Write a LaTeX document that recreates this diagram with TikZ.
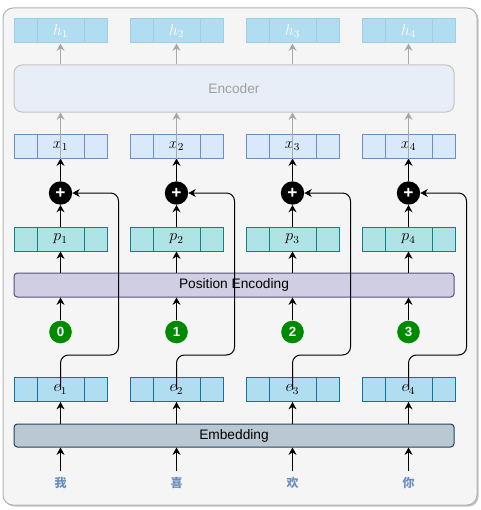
\documentclass[tikz,border=0pt]{standalone}
\usepackage{fontspec}
\setmainfont{Liberation Sans}
\newfontfamily\cjk{Noto Sans CJK SC}
\usetikzlibrary{arrows.meta}
\definecolor{bgfill}{HTML}{F5F5F5}
\definecolor{bgdraw}{HTML}{B3B3B3}
\definecolor{hfill}{HTML}{B1DDF0}
\definecolor{hdraw}{HTML}{9CCFE6}
\definecolor{encfill}{HTML}{E8EEF7}
\definecolor{encdraw}{HTML}{C4C4C4}
\definecolor{enctext}{HTML}{A0A0A0}
\definecolor{xfill}{HTML}{DAE8FC}
\definecolor{xdraw}{HTML}{6C8EBF}
\definecolor{pfill}{HTML}{B0E3E6}
\definecolor{pdraw}{HTML}{0E8088}
\definecolor{pefill}{HTML}{D0CEE2}
\definecolor{pedraw}{HTML}{56517E}
\definecolor{efill}{HTML}{B1DDF0}
\definecolor{edraw}{HTML}{10739E}
\definecolor{embfill}{HTML}{BAC8D3}
\definecolor{embdraw}{HTML}{23445D}
\definecolor{gfill}{HTML}{008A00}
\definecolor{chcol}{HTML}{6C8EBF}
\definecolor{garrow}{HTML}{A8A8A8}
\tikzset{
  vec/.style 2 args={draw=#2, fill=#1, line width=0.75pt, minimum width=69.75pt,
    minimum height=18pt, inner sep=0pt, font=\fontsize{11.5}{12}\selectfont,
    path picture={
      \draw[#2,line width=0.75pt] ([xshift=17.25pt]path picture bounding box.north west) -- ([xshift=17.25pt]path picture bounding box.south west);
      \draw[#2,line width=0.75pt] ([xshift=-17.25pt]path picture bounding box.north east) -- ([xshift=-17.25pt]path picture bounding box.south east);}},
  wide/.style 2 args={draw=#2, fill=#1, line width=0.75pt, minimum width=330pt,
    inner sep=0pt, font=\fontsize{10.3}{12}\selectfont},
  arr/.style={draw=black, line width=0.75pt, -{Stealth[length=5.5pt,width=6pt,inset=1.8pt]}},
  garr/.style={draw=garrow, line width=0.75pt, -{Stealth[length=5.5pt,width=6pt,inset=1.8pt]}},
  plusnode/.style={circle, fill=black, minimum size=17.5pt, inner sep=0pt,
    text=white, font=\fontsize{13}{13}\selectfont\bfseries},
  numnode/.style={circle, fill=gfill, minimum size=17pt, inner sep=0pt,
    text=white, font=\fontsize{10}{12}\selectfont\bfseries},
  chnode/.style={text=chcol, inner sep=1pt, font=\cjk\fontsize{9}{10}\selectfont\bfseries}
}
\begin{document}
\begin{tikzpicture}[x=0.75pt,y=-0.75pt]
\useasboundingbox (0,0) rectangle (480,510);
% frame
\fill[bgdraw!80, rounded corners=7.5pt] (4.5,9.5) rectangle (478.5,506.5);
\draw[fill=bgfill, draw=bgdraw, line width=0.75pt, rounded corners=7.5pt] (3,8) rectangle (477,505);
% wide boxes
\node[wide={encfill}{encdraw}, minimum height=35.25pt, rounded corners=6pt, text=enctext] (enc) at (234,88.5) {Encoder};
\node[wide={pefill}{pedraw}, minimum height=18pt, rounded corners=2.5pt] (pe) at (234,285) {Position Encoding};
\node[wide={embfill}{embdraw}, minimum height=17.25pt, rounded corners=2.5pt] (emb) at (234,435.5) {Embedding};
\foreach \i/\c in {1/我,2/喜,3/欢,4/你} {
  \pgfmathsetmacro\cx{60.5+116*(\i-1)}
  \pgfmathsetmacro\sx{\cx+58}
  \node[vec={hfill}{hdraw}, text=white] (h\i) at (\cx,31) {$h_{\i}$};
  \node[vec={xfill}{xdraw}] (x\i) at (\cx,146) {$x_{\i}$};
  \node[plusnode] (s\i) at (\cx,193) {+};
  \node[vec={pfill}{pdraw}] (p\i) at (\cx,239) {$p_{\i}$};
  \pgfmathtruncatemacro\n{\i-1}
  \node[numnode] (g\i) at (\cx,332) {\n};
  \node[vec={efill}{edraw}] (e\i) at (\cx,389.5) {$e_{\i}$};
  \node[chnode] (c\i) at (\cx,483) {\c};
  % connectors
  \draw[arr] (c\i.north) ++(0,-5) -- (c\i.north |- emb.south);
  \draw[arr] (e\i.center |- emb.north) -- (e\i.south);
  \draw[arr] (g\i.north) -- (g\i.north |- pe.south);
  \draw[arr] (p\i.center |- pe.north) -- (p\i.south);
  \draw[arr] (p\i.north) -- (s\i.south);
  \draw[arr] (s\i.north) -- (x\i.south);
  \draw[garr] (x\i.south) -- (x\i.south |- enc.south);
  \draw[garr] (h\i.south |- enc.north) -- (h\i.south);
  \draw[arr, rounded corners=6pt] (e\i.center) -- (\cx,355) -- (\sx,355) -- (\sx,193) -- (s\i.east);
}
\end{tikzpicture}
\end{document}
